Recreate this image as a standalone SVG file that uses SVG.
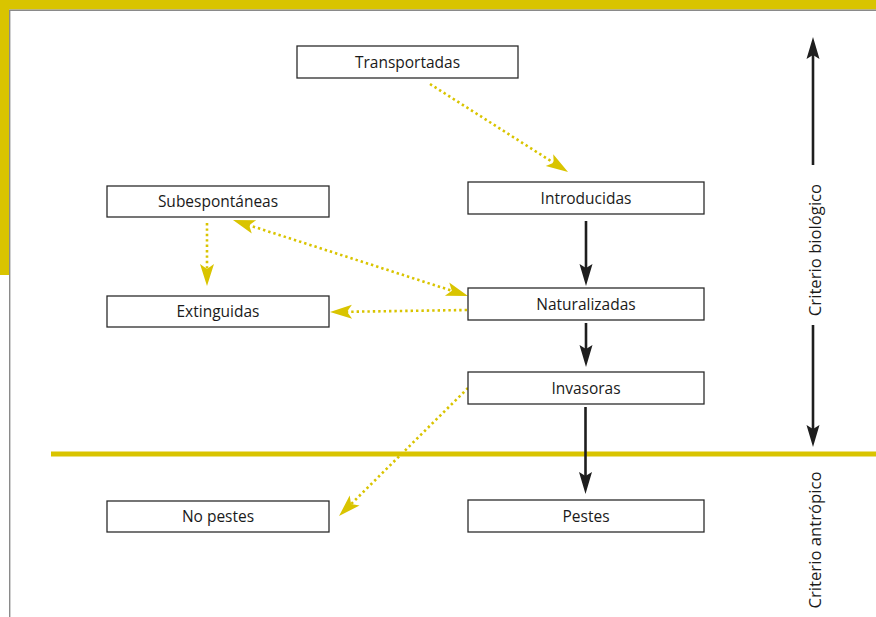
<svg xmlns="http://www.w3.org/2000/svg" width="876" height="617" viewBox="0 0 876 617">
<style>
.box{fill:#fff;stroke:#2b2b2b;stroke-width:1.3}
.lbl{font-family:"Open Sans","Liberation Sans",sans-serif;font-size:15.5px;fill:#1a1a1a;text-anchor:middle}
.side{font-size:16.7px}
.yl{fill:none;stroke:#d9c400;stroke-width:2.6;stroke-dasharray:2.4 3}
.bl{fill:none;stroke:#1e1e1e;stroke-width:2.6}
</style>
<defs>
<marker id="ya" markerUnits="userSpaceOnUse" markerWidth="30" markerHeight="20" viewBox="-14 -10 28 20" refX="0" refY="0" orient="auto-start-reverse">
<path d="M-12,-7 L10,0 L-12,7 L-7,0 Z" fill="#d9c400"/>
</marker>
<marker id="ba" markerUnits="userSpaceOnUse" markerWidth="30" markerHeight="20" viewBox="-14 -10 28 20" refX="0" refY="0" orient="auto-start-reverse">
<path d="M-12,-6.5 L10,0 L-12,6.5 L-8,0 Z" fill="#1e1e1e"/>
</marker>
</defs>
<rect width="876" height="617" fill="#fff"/>
<g id="frame">
<rect x="0" y="0" width="876" height="9.5" fill="#d9c400"/>
<rect x="0" y="0" width="9" height="275" fill="#d9c400"/>
<path d="M9.7,617 V10.2 H876" fill="none" stroke="#8a8a8a" stroke-width="1.4"/>
<rect x="51" y="451.5" width="825" height="5" fill="#d9c400"/>
</g>
<g id="connectors">
<path class="yl" d="M430,84 L559.6,166.6" marker-end="url(#ya)"/>
<path class="yl" d="M207,223 L207,276" marker-end="url(#ya)"/>
<path class="yl" d="M242.5,223.1 L458.5,292.9" marker-start="url(#ya)" marker-end="url(#ya)"/>
<path class="yl" d="M467,310 L340,311.9" marker-end="url(#ya)"/>
<path class="yl" d="M468,388 L346.1,509" marker-end="url(#ya)"/>
<path class="bl" d="M586,221 V276" marker-end="url(#ba)"/>
<path class="bl" d="M586,323 V357" marker-end="url(#ba)"/>
<path class="bl" d="M585.5,407 V484" marker-end="url(#ba)"/>
<path class="bl" d="M813,165 V47" marker-end="url(#ba)"/>
<path class="bl" d="M813,325 V437" marker-end="url(#ba)"/>
</g>
<g id="transportadas"><rect class="box" x="297" y="46" width="221" height="32"/><text class="lbl" x="407.5" y="67.5">Transportadas</text></g>
<g id="introducidas"><rect class="box" x="468" y="182" width="236" height="32"/><text class="lbl" x="586" y="203.5">Introducidas</text></g>
<g id="subespontaneas"><rect class="box" x="107" y="186" width="222" height="31"/><text class="lbl" x="218" y="207">Subespontáneas</text></g>
<g id="extinguidas"><rect class="box" x="107" y="296" width="222" height="31"/><text class="lbl" x="218" y="317">Extinguidas</text></g>
<g id="naturalizadas"><rect class="box" x="468" y="288" width="236" height="32"/><text class="lbl" x="586" y="309.5">Naturalizadas</text></g>
<g id="invasoras"><rect class="box" x="468" y="372" width="236" height="32"/><text class="lbl" x="586" y="393.5">Invasoras</text></g>
<g id="nopestes"><rect class="box" x="107" y="501" width="222" height="31"/><text class="lbl" x="218" y="522">No pestes</text></g>
<g id="pestes"><rect class="box" x="468" y="500" width="236" height="32"/><text class="lbl" x="586" y="521.5">Pestes</text></g>
<g id="criterio-biologico"><text class="lbl side" transform="translate(821,250) rotate(-90)">Criterio biológico</text></g>
<g id="criterio-antropico"><text class="lbl side" transform="translate(821,540) rotate(-90)">Criterio antrópico</text></g>
</svg>
